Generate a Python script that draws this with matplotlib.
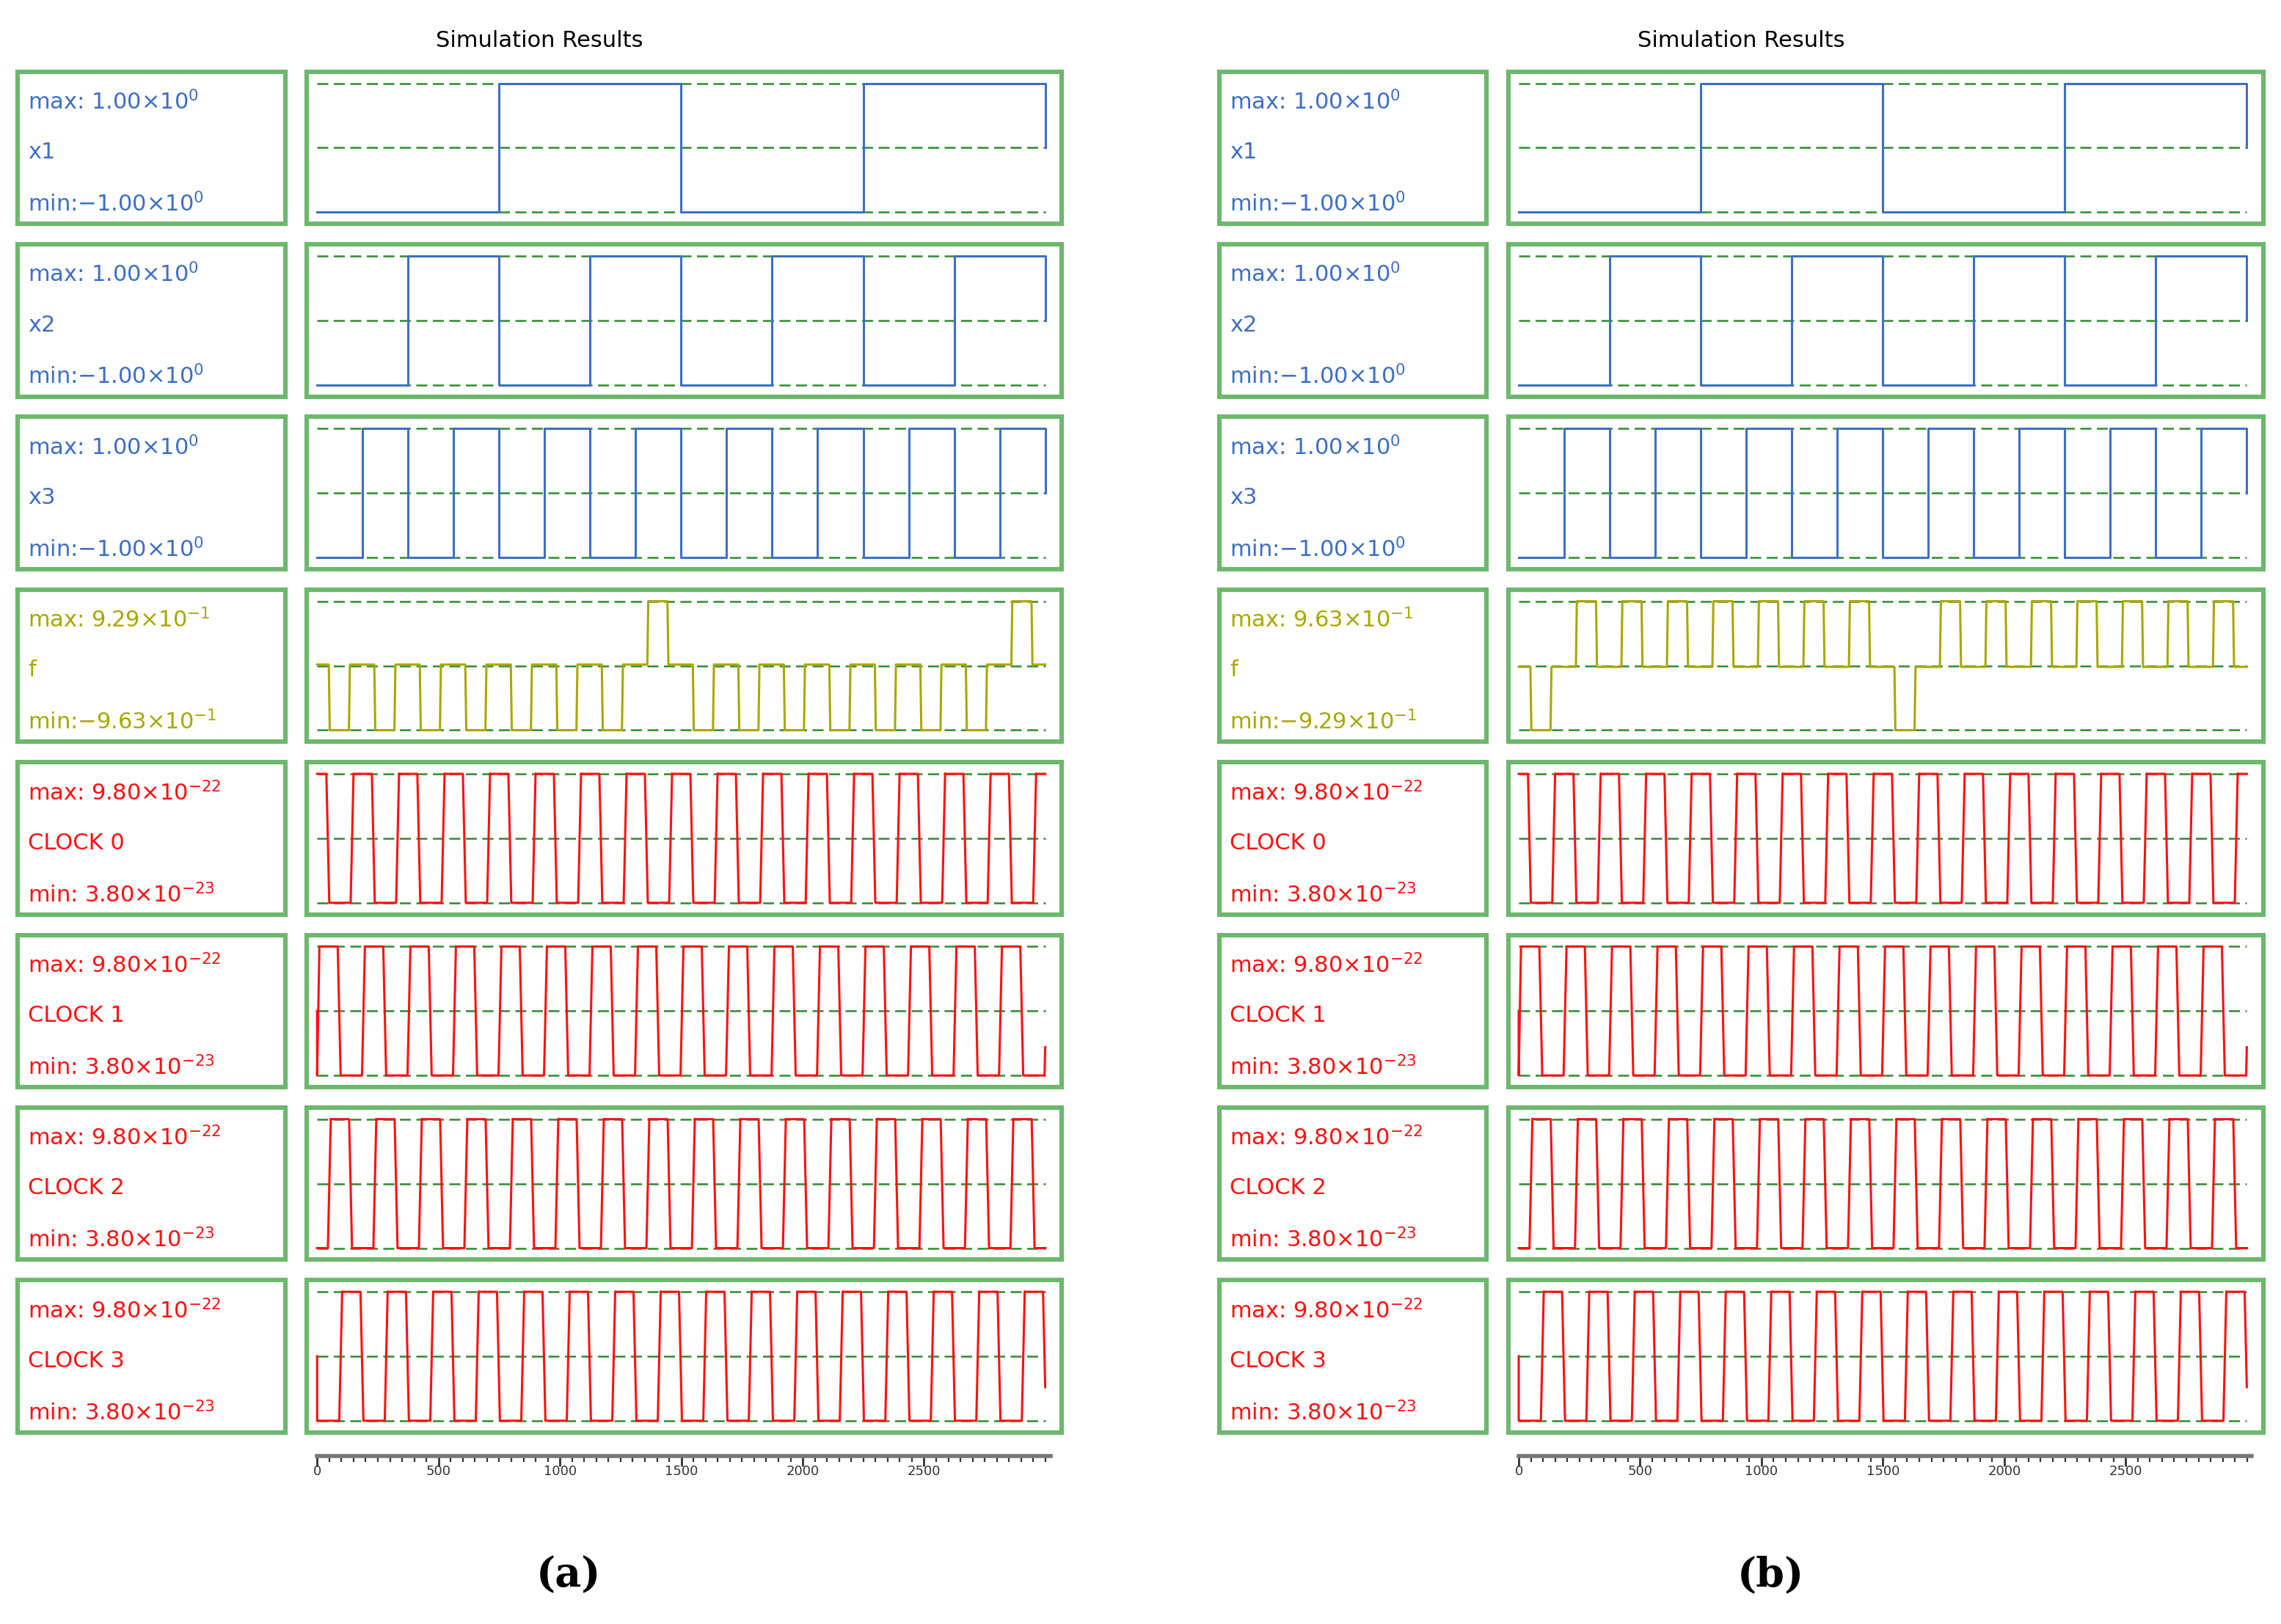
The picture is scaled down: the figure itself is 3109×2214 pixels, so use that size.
import matplotlib.pyplot as plt
import numpy as np

# ---- data ----
T_END = 3000
N_CYCLES = 16                      # clock cycles over the run
PERIOD = T_END / N_CYCLES          # 187.5

X1_LEVELS = [-1, 1, -1, 1]
X2_LEVELS = [-1, 1, -1, 1, -1, 1, -1, 1]
X3_LEVELS = [-1, 1] * 8

# f pulse per clock cycle: -1 low pulse, +1 high pulse
F_PULSES_A = [-1, -1, -1, -1, -1, -1, -1, 1, -1, -1, -1, -1, -1, -1, -1, 1]
F_PULSES_B = [-1, 1, 1, 1, 1, 1, 1, 1, -1, 1, 1, 1, 1, 1, 1, 1]
F_RANGE_A = (-0.963, 0.929)
F_RANGE_B = (-0.929, 0.963)

CLK_MIN, CLK_MAX = 3.80e-23, 9.80e-22
CLOCK_PHASES = [0.0, 0.25, 0.5, 0.75]   # fraction of a cycle
CLOCK_START_MID = [False, True, False, True]

LABELS_X = ["x1", "x2", "x3"]
MAXMIN_X = ("1.00", "0", "-1.00", "0")
MAXMIN_F_A = ("9.29", "-1", "-9.63", "-1")
MAXMIN_F_B = ("9.63", "-1", "-9.29", "-1")
MAXMIN_CLK = ("9.80", "-22", "3.80", "-23")
XTICKS = [0, 500, 1000, 1500, 2000, 2500]

BLUE = "#3f6fc4"
OLIVE = "#a8a800"
RED = "#ff1010"
GREEN = "#6cb86c"
DGREEN = "#2e8b2e"

W, H = 1568, 1110


def rect(x0, y0, x1, y1):
    return [x0 / W, 1 - y1 / H, (x1 - x0) / W, (y1 - y0) / H]


def square_wave(levels):
    seg = T_END / len(levels)
    t, v = [], []
    for i, lv in enumerate(levels):
        t += [i * seg, (i + 1) * seg]
        v += [lv, lv]
    t.append(T_END)
    v.append(0)
    return np.array(t), np.array(v, dtype=float)


def f_wave(pulses, rng):
    lo, hi = rng
    t, v = [0.0], [0.0]
    for i, p in enumerate(pulses):
        s = i * PERIOD
        lv = hi if p > 0 else lo
        t += [s + 48, s + 52, s + 131, s + 135]
        v += [0, lv, lv, 0]
    t.append(T_END)
    v.append(0)
    return np.array(t), np.array(v)


def clock_wave(phase, start_mid):
    # trapezoid: high 76, fall 12, low 88, rise 12 (in time units)
    shape_t = [-38, 38, 50, 138, 150]
    shape_v = [1, 1, 0, 0, 1]
    t, v = [], []
    for k in range(-1, N_CYCLES + 1):
        s = k * PERIOD + phase * PERIOD
        for st, sv in zip(shape_t, shape_v):
            t.append(s + st)
            v.append(sv)
    t, v = np.array(t), np.array(v, dtype=float)
    v0 = round(float(np.interp(0, t, v)))
    vend = float(np.interp(T_END, t, v))
    keep = (t > 0) & (t < T_END)
    first = 0.5 if start_mid else v0
    t = np.concatenate([[0, 0], t[keep], [T_END]])
    v = np.concatenate([[first, v0], v[keep], [vend]])
    return t, CLK_MIN + v * (CLK_MAX - CLK_MIN)


def label_text(ax, color, name, mm):
    mx, mxe, mn, mne = mm
    mx_s = mx.replace("-", "\u2212")
    mn_s = mn.replace("-", "\u2212")
    sep = "" if mn.startswith("-") else " "
    ax.text(0.04, 0.80, rf"max: {mx_s}$\times$10$^{{{mxe.replace('-', chr(8722))}}}$",
            color=color, fontsize=11, va="center", transform=ax.transAxes)
    ax.text(0.04, 0.47, name, color=color, fontsize=11, va="center", transform=ax.transAxes)
    ax.text(0.04, 0.13, rf"min:{sep}{mn_s}$\times$10$^{{{mne.replace('-', chr(8722))}}}$",
            color=color, fontsize=11, va="center", transform=ax.transAxes)


def box(ax):
    ax.set_xticks([])
    ax.set_yticks([])
    for sp in ax.spines.values():
        sp.set_color(GREEN)
        sp.set_linewidth(2.2)


def draw_panel(fig, xl0, xl1, xs0, xs1, f_pulses, f_range, f_mm, tag):
    rows = []
    for i, lv in enumerate([X1_LEVELS, X2_LEVELS, X3_LEVELS]):
        t, v = square_wave(lv)
        rows.append((t, v, -1, 1, BLUE, LABELS_X[i], MAXMIN_X))
    t, v = f_wave(f_pulses, f_range)
    rows.append((t, v, f_range[0], f_range[1], OLIVE, "f", f_mm))
    for k in range(4):
        t, v = clock_wave(CLOCK_PHASES[k], CLOCK_START_MID[k])
        rows.append((t, v, CLK_MIN, CLK_MAX, RED, f"CLOCK {k}", MAXMIN_CLK))

    for r, (t, v, lo, hi, color, name, mm) in enumerate(rows):
        y0 = 49 + r * 118
        y1 = y0 + 104
        axl = fig.add_axes(rect(xl0, y0, xl1, y1))
        box(axl)
        label_text(axl, color, name, mm)

        ax = fig.add_axes(rect(xs0, y0, xs1, y1))
        box(ax)
        pad = (hi - lo) * 0.09
        ax.set_ylim(lo - pad, hi + pad)
        ax.set_xlim(-42, 3069)
        for yy in (lo, (lo + hi) / 2, hi):
            ax.plot([0, T_END], [yy, yy], ls=(0, (6, 3)), color=DGREEN, lw=0.9)
        ax.plot(t, v, color=color, lw=1.1)

    # time axis
    axx = fig.add_axes(rect(xs0 + 7, 995, xs1 - 8, 1000))
    axx.set_xlim(0, 3020)
    axx.set_ylim(0, 1)
    for side in ("left", "right", "bottom"):
        axx.spines[side].set_visible(False)
    axx.spines["top"].set_color("#777777")
    axx.spines["top"].set_linewidth(2)
    axx.set_yticks([])
    axx.xaxis.set_ticks_position("top")
    axx.set_xticks(XTICKS)
    axx.set_xticklabels([str(x) for x in XTICKS])
    axx.set_xticks(np.arange(0, 3001, 50), minor=True)
    axx.tick_params(axis="x", which="major", direction="in", length=5, width=1,
                    labeltop=False, labelbottom=True, labelsize=6.5, pad=1, colors="#333333")
    axx.tick_params(axis="x", which="minor", direction="in", length=3, width=0.8, colors="#333333")

    fig.text((xs0 + 160) / W, 1 - 28 / H, "Simulation Results", ha="center", va="center", fontsize=11)
    fig.text((xs0 + 180) / W, 1 - 1077 / H, f"({tag})", ha="center", va="center",
             fontsize=20, family="DejaVu Serif", fontweight="bold")


fig = plt.figure(figsize=(3109 / 200, 2214 / 200), dpi=200)
draw_panel(fig, 12, 196, 211, 730, F_PULSES_A, F_RANGE_A, MAXMIN_F_A, "a")
draw_panel(fig, 838, 1022, 1037, 1556, F_PULSES_B, F_RANGE_B, MAXMIN_F_B, "b")
fig.savefig("out.png", dpi=200)
